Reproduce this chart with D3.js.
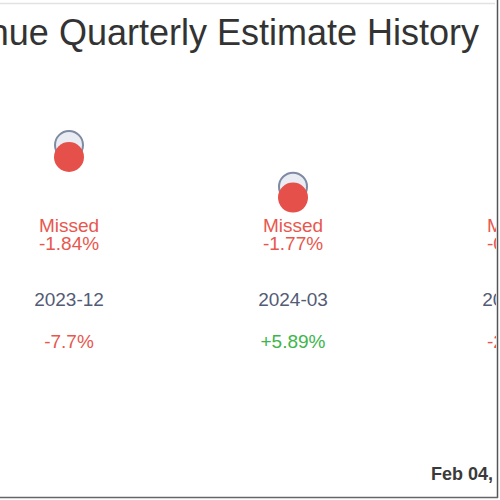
<!DOCTYPE html>
<html>
<head>
<meta charset="utf-8">
<script src="https://cdn.jsdelivr.net/npm/d3@7"></script>
<style>
  body { margin: 0; background: #fff; }
  svg { display: block; font-family: "Liberation Sans", Arial, sans-serif; }
</style>
</head>
<body>
<div id="chart"></div>
<script>
// quarters shown (the third one runs off the right edge)
const quarters = ["2023-12", "2024-03", "2024-06"];
const estimates = [100.0, 93.6, 96.4];
const actuals = [98.16, 91.94, 95.9];
const surprise = ["-1.84%", "-1.77%", "-0.52%"];
const growth = ["-7.7%", "+5.89%", "-2.31%"];
const asOf = "Feb 04, 2025";

const width = 500, height = 500;

const svg = d3.select("#chart")
    .append("svg")
    .attr("width", width)
    .attr("height", height);

svg.append("clipPath").attr("id", "clip")
    .append("rect").attr("x", 0).attr("y", 0).attr("width", 496).attr("height", 496);

const g = svg.append("g").attr("clip-path", "url(#clip)");

const x = d3.scalePoint()
    .domain(quarters)
    .range([69, 517]);

const y = d3.scaleLinear()
    .domain([90, 100])
    .range([210.2, 145]);

// title, centred on the full (wider) chart
g.append("text")
    .attr("x", 479)
    .attr("y", 45)
    .attr("text-anchor", "end")
    .attr("font-size", 36)
    .attr("fill", "#333")
    .text("Revenue Quarterly Estimate History");

const col = g.selectAll(".q")
    .data(quarters)
    .join("g")
    .attr("class", "q");

// estimate marker (hollow)
col.append("circle")
    .attr("cx", d => x(d))
    .attr("cy", (d, i) => y(estimates[i]))
    .attr("r", 14)
    .attr("fill", "#e9edf3")
    .attr("stroke", "#7f8aa3")
    .attr("stroke-width", 2);

// actual marker
col.append("circle")
    .attr("cx", d => x(d))
    .attr("cy", (d, i) => y(actuals[i]))
    .attr("r", 15)
    .attr("fill", "#e5514a");

const red = "#e8574e", green = "#3db54b";

col.append("text")
    .attr("x", d => x(d))
    .attr("y", 232)
    .attr("text-anchor", "middle")
    .attr("font-size", 19)
    .attr("fill", red)
    .text((d, i) => surprise[i].startsWith("-") ? "Missed" : "Beat");

col.append("text")
    .attr("x", d => x(d))
    .attr("y", 250)
    .attr("text-anchor", "middle")
    .attr("font-size", 19)
    .attr("fill", (d, i) => surprise[i].startsWith("-") ? red : green)
    .text((d, i) => surprise[i]);

col.append("text")
    .attr("x", d => x(d))
    .attr("y", 306)
    .attr("text-anchor", "middle")
    .attr("font-size", 19)
    .attr("fill", "#545b76")
    .text(d => d);

col.append("text")
    .attr("x", d => x(d))
    .attr("y", 348)
    .attr("text-anchor", "middle")
    .attr("font-size", 19)
    .attr("fill", (d, i) => growth[i].startsWith("-") ? red : green)
    .text((d, i) => growth[i]);

g.append("text")
    .attr("x", 431)
    .attr("y", 480)
    .attr("font-size", 18)
    .attr("font-weight", "bold")
    .attr("fill", "#3a3a3a")
    .text(asOf);

// frame edges
svg.append("line").attr("x1", 0).attr("x2", 495).attr("y1", 3.5).attr("y2", 3.5)
    .attr("stroke", "#e2e2e2").attr("stroke-width", 1.5);
svg.append("line").attr("x1", 497.5).attr("x2", 497.5).attr("y1", 0).attr("y2", 498)
    .attr("stroke", "#555").attr("stroke-width", 1.5);
svg.append("line").attr("x1", 0).attr("x2", 498).attr("y1", 497.5).attr("y2", 497.5)
    .attr("stroke", "#666").attr("stroke-width", 1.5);
</script>
</body>
</html>
